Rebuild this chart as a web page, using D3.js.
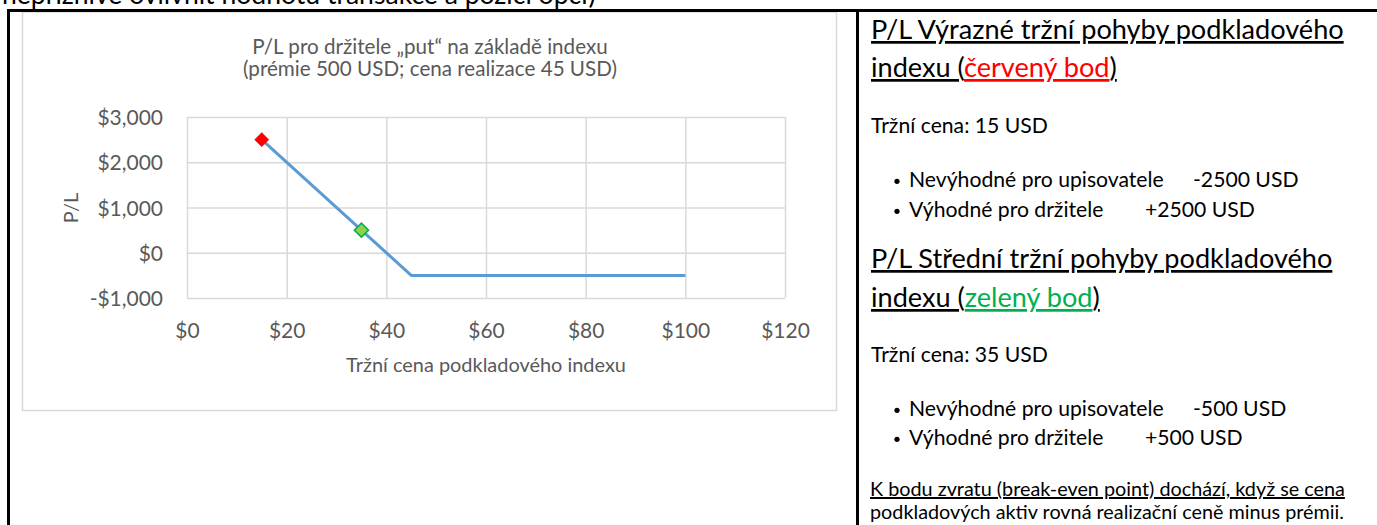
<!DOCTYPE html>
<html><head><meta charset="utf-8">
<script src="https://cdn.jsdelivr.net/npm/d3@7"></script>
<style>
html,body{margin:0;padding:0;background:#fff;overflow:hidden;}
svg{display:block;}
</style></head><body>
<svg id="c" width="1377" height="525"></svg>
<script>
// ---------- data ----------
const prices = [15, 35, 45, 100];
const payoff = [2500, 500, -500, -500];
const markerPrices = [15, 35];
const markerPL = [2500, 500];
const markerNames = ["červený bod", "zelený bod"];
const xTicks = [0, 20, 40, 60, 80, 100, 120];
const yTicks = [-1000, 0, 1000, 2000, 3000];
const chartTitle = ["P/L pro držitele „put“ na základě indexu", "(prémie 500 USD; cena realizace 45 USD)"];
const xTitle = "Tržní cena podkladového indexu";
const yTitle = "P/L";
const topText = "nepříznivě ovlivnit hodnotu transakce a pozici opcí)";
const headings = ["P/L Výrazné tržní pohyby podkladového", "P/L Střední tržní pohyby podkladového"];
const marketPrices = ["Tržní cena: 15 USD", "Tržní cena: 35 USD"];
const itemLabels = ["Nevýhodné pro upisovatele", "Výhodné pro držitele"];
const itemValues1 = ["-2500 USD", "+2500 USD"];
const itemValues2 = ["-500 USD", "+500 USD"];
const noteLines = ["K bodu zvratu (break-even point) dochází, když se cena", "podkladových aktiv rovná realizační ceně minus prémii."];

// ---------- setup ----------
const FONT = "Lato, 'Open Sans', sans-serif";
const svg = d3.select("#c");
function fitSize(text, target) {
  const t = svg.append("text").attr("font-family", FONT).attr("font-size", 100).text(text);
  const w = t.node().getComputedTextLength();
  t.remove();
  return 100 * target / w;
}
const headSize = fitSize(headings[0], 473);
const bodySize = fitSize(marketPrices[0], 177);
const noteSize = fitSize(noteLines[0], 475);
const titleSize = fitSize(chartTitle[1], 374);
const tickSize = fitSize("$3,000", 65.6);
const axTitleSize = fitSize(xTitle, 280);
const topSize = fitSize(topText, 594);

// top cut text
svg.append("text").attr("x", 2).attr("y", 4).attr("font-family", FONT)
  .attr("font-size", topSize).attr("fill", "#000").text(topText);

// chart box
svg.append("rect").attr("x", 22.5).attr("y", 12).attr("width", 814).attr("height", 398.5)
  .attr("fill", "#fff").attr("stroke", "#d9d9d9").attr("stroke-width", 1.5);

// scales
const x = d3.scaleLinear().domain([0, 120]).range([187, 785]);
const y = d3.scaleLinear().domain([-1000, 3000]).range([298, 117]);
const grey = "#595959";
const fmt = v => (v < 0 ? "-" : "") + "$" + d3.format(",")(Math.abs(v));

// gridlines
const gx = svg.append("g").attr("transform", `translate(0,${y(-1000)})`)
  .call(d3.axisBottom(x).tickValues(xTicks).tickSize(-(y(-1000) - y(3000))).tickFormat(""));
const gy = svg.append("g").attr("transform", `translate(${x(0)},0)`)
  .call(d3.axisLeft(y).tickValues(yTicks).tickSize(-(x(120) - x(0))).tickFormat(""));
[gx, gy].forEach(g => {
  g.select(".domain").remove();
  g.selectAll("line").attr("stroke", "#d9d9d9").attr("stroke-width", 1.5);
});

// tick labels via axes
const ax = svg.append("g").attr("transform", `translate(0,${y(-1000)})`)
  .call(d3.axisBottom(x).tickValues(xTicks).tickSize(0).tickFormat(fmt));
ax.select(".domain").remove();
ax.selectAll("text").attr("y", 338 - y(-1000)).attr("dy", 0)
  .attr("font-family", FONT).attr("font-size", tickSize).attr("fill", grey);
const ay = svg.append("g").attr("transform", `translate(${x(0)},0)`)
  .call(d3.axisLeft(y).tickValues(yTicks).tickSize(0).tickPadding(24).tickFormat(fmt));
ay.select(".domain").remove();
ay.selectAll("text").attr("dy", "0.36em")
  .attr("font-family", FONT).attr("font-size", tickSize).attr("fill", grey);

// titles
svg.append("text").attr("x", 430).attr("y", 54).attr("text-anchor", "middle")
  .attr("font-family", FONT).attr("font-size", titleSize).attr("fill", grey).text(chartTitle[0]);
svg.append("text").attr("x", 430).attr("y", 76).attr("text-anchor", "middle")
  .attr("font-family", FONT).attr("font-size", titleSize).attr("fill", grey).text(chartTitle[1]);
svg.append("text").attr("x", 486).attr("y", 372).attr("text-anchor", "middle")
  .attr("font-family", FONT).attr("font-size", axTitleSize).attr("fill", grey).text(xTitle);
svg.append("text").attr("transform", "translate(71,208) rotate(-90)").attr("text-anchor", "middle")
  .attr("dy", "0.36em").attr("font-family", FONT).attr("font-size", axTitleSize).attr("fill", grey).text(yTitle);

// line
const line = d3.line().x((d, i) => x(prices[i])).y((d, i) => y(payoff[i]));
svg.append("path").datum(payoff).attr("d", line).attr("fill", "none")
  .attr("stroke", "#5b9bd5").attr("stroke-width", 3).attr("stroke-linejoin", "round");

// markers
const sym = d3.symbol().type(d3.symbolSquare).size(100);
const mFill = ["#ff0000", "#92d050"];
const mStroke = ["#ff0000", "#00b050"];
markerPrices.forEach((p, i) => {
  svg.append("path").attr("d", sym())
    .attr("transform", `translate(${x(p)},${y(markerPL[i])}) rotate(45)`)
    .attr("fill", mFill[i]).attr("stroke", mStroke[i]).attr("stroke-width", i === 0 ? 0.5 : 1.6);
});

// right panel
const textColors = ["#ff0000", "#00b050"];
const secY = [[39, 77, 133, 187, 217], [268, 307, 362, 416, 445]];
const vals = [itemValues1, itemValues2];
const valX = [1193, 1145];
[0, 1].forEach(s => {
  const Y = secY[s];
  svg.append("text").attr("x", 871).attr("y", Y[0]).attr("font-family", FONT)
    .attr("font-size", headSize).attr("fill", "#000")
    .append("tspan").style("text-decoration", "underline").text(headings[s]);
  const t2 = svg.append("text").attr("x", 871).attr("y", Y[1]).attr("font-family", FONT)
    .attr("font-size", headSize).attr("fill", "#000");
  t2.append("tspan").style("text-decoration", "underline").text("indexu (");
  t2.append("tspan").attr("fill", textColors[s]).style("text-decoration", "underline").text(markerNames[s]);
  t2.append("tspan").style("text-decoration", "underline").text(")");
  svg.append("text").attr("x", 871).attr("y", Y[2]).attr("font-family", FONT)
    .attr("font-size", bodySize).attr("fill", "#000").text(marketPrices[s]);
  [0, 1].forEach(k => {
    svg.append("circle").attr("cx", 897).attr("cy", Y[3 + k] - bodySize * 0.27).attr("r", 2.6).attr("fill", "#000");
    svg.append("text").attr("x", 909).attr("y", Y[3 + k]).attr("font-family", FONT)
      .attr("font-size", bodySize).attr("fill", "#000").text(itemLabels[k]);
    svg.append("text").attr("x", valX[k]).attr("y", Y[3 + k]).attr("font-family", FONT)
      .attr("font-size", bodySize).attr("fill", "#000").text(vals[s][k]);
  });
});
svg.append("text").attr("x", 870).attr("y", 496).attr("font-family", FONT)
  .attr("font-size", noteSize).attr("fill", "#000")
  .append("tspan").style("text-decoration", "underline").text(noteLines[0]);
svg.append("text").attr("x", 870).attr("y", 519).attr("font-family", FONT)
  .attr("font-size", noteSize).attr("fill", "#000").text(noteLines[1]);

// table borders
svg.append("rect").attr("x", 7).attr("y", 9).attr("width", 1370).attr("height", 3).attr("fill", "#000");
svg.append("rect").attr("x", 7).attr("y", 9).attr("width", 3).attr("height", 516).attr("fill", "#000");
svg.append("rect").attr("x", 856).attr("y", 9).attr("width", 3).attr("height", 516).attr("fill", "#000");
</script>
</body></html>
